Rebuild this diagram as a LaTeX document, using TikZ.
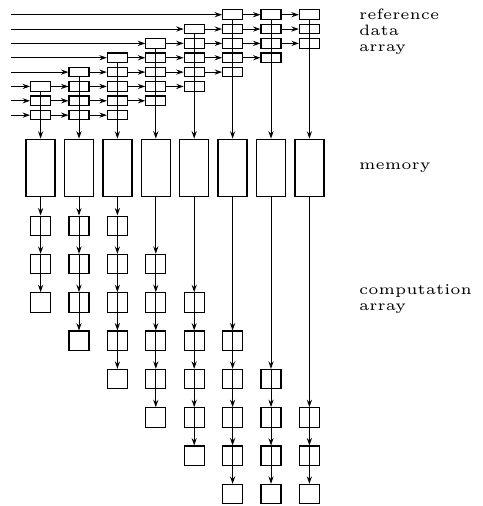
\documentclass[tikz,border=0pt]{standalone}
\usetikzlibrary{arrows.meta}
\newcommand{\lbltext}[1]{\scalebox{3.02}{\fontsize{5}{5.4}\selectfont\begin{tabular}[t]{@{}l@{}}#1\end{tabular}}}
\begin{document}
\begin{tikzpicture}[x=1bp,y=-1bp,
  ln/.style={line width=1bp},
  arr/.style={ln, -{Stealth[length=7.5bp,width=5.2bp,inset=2.6bp]}},
  refbox/.style={draw, line width=1.1bp, minimum width=20bp, minimum height=9.5bp, inner sep=0pt},
  membox/.style={draw, line width=1.35bp, minimum width=29bp, minimum height=57.4bp, inner sep=0pt},
  compbox/.style={draw, line width=1.1bp, minimum width=20bp, minimum height=19.5bp, inner sep=0pt},
  lbl/.style={inner sep=0pt, anchor=base west}]
\useasboundingbox (0,0) rectangle (483,506);
% reference data array and memory
\foreach \j in {0,...,7} {
  \pgfmathtruncatemacro\rtop{max(1,6-\j)}
  \pgfmathtruncatemacro\rbot{min(8,10-\j)}
  \foreach \r in {\rtop,...,\rbot}
    \node[refbox] (r\j-\r) at ({40.6+38.4*\j},{14.7+14.35*(\r-1)}) {};
  \node[membox] (m\j) at ({40.6+38.4*\j},168) {};
  \draw[arr] (r\j-\rtop.south) -- (m\j.north);
}
% horizontal connections
\foreach \r in {1,...,8} {
  \pgfmathtruncatemacro\cfirst{max(0,6-\r)}
  \pgfmathtruncatemacro\clastm{min(7,10-\r)-1}
  \coordinate (s\r) at (11,{14.7+14.35*(\r-1)});
  \draw[arr] (s\r) -- (r\cfirst-\r.west);
  \foreach \c in {\cfirst,...,\clastm} {
    \pgfmathtruncatemacro\cn{\c+1}
    \draw[arr] (r\c-\r.east) -- (r\cn-\r.west);
  }
}
% computation array
\foreach \j in {0,...,7} {
  \pgfmathtruncatemacro\ctop{max(0,\j-2)}
  \pgfmathtruncatemacro\cbot{min(7,\j+2)}
  \pgfmathtruncatemacro\cbotm{\cbot-1}
  \foreach \k in {\ctop,...,\cbot}
    \node[compbox] (c\j-\k) at ({40.6+38.4*\j},{225.8+38.33*\k}) {};
  \draw[arr] (m\j.south) -- (c\j-\ctop.north);
  \foreach \k in {\ctop,...,\cbotm} {
    \pgfmathtruncatemacro\kn{\k+1}
    \draw[arr] (c\j-\k.north) -- (c\j-\kn.north);
  }
}
% labels
\node[lbl] (lref) at (359,19.5) {\lbltext{reference\\data\\array}};
\node[lbl] (lmem) at (359,170) {\lbltext{memory}};
\node[lbl] (lcomp) at (359,294) {\lbltext{computation\\array}};
\end{tikzpicture}
\end{document}
